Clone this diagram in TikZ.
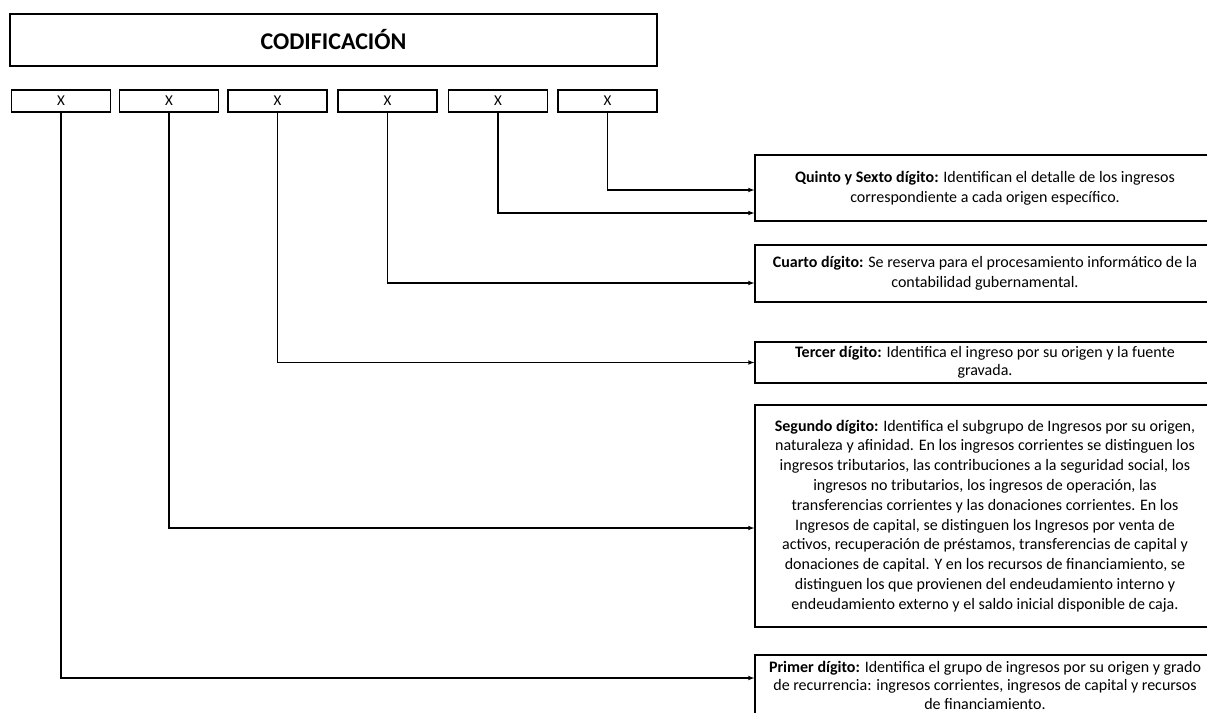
\documentclass[tikz,border=0pt]{standalone}
\usepackage{fontspec}
\setmainfont{Carlito}
\usetikzlibrary{arrows}

\begin{document}
\begin{tikzpicture}[x=1pt,y=-1pt,>=latex,
  digit/.style={draw,line width=1.3pt,minimum width=99pt,minimum height=22pt,inner sep=0pt,font=\fontsize{15}{16}\selectfont},
  infobox/.style={draw,line width=1.3pt,minimum width=460pt,align=center,inner sep=3pt,font=\fontsize{16}{19.8}\selectfont},
  link/.style={->,line width=1.1pt}]
\useasboundingbox (0,0) rectangle (1207,712);
\clip (0,0) rectangle (1207,712);
\node[draw,line width=1.3pt,minimum width=647pt,minimum height=52pt,font=\fontsize{24}{26}\selectfont\bfseries] (cod) at (333.5,40) {CODIFICACIÓN};
\node[digit] (d1) at (61,101) {X};
\node[digit] (d2) at (169,101) {X};
\node[digit] (d3) at (277.5,101) {X};
\node[digit] (d4) at (387.5,101) {X};
\node[digit] (d5) at (498,101) {X};
\node[digit] (d6) at (607.5,101) {X};
\node[infobox,minimum height=66pt] (quinto) at (985,188) {\textbf{Quinto y Sexto dígito:} Identifican el detalle de los ingresos\\correspondiente a cada origen específico.};
\node[infobox,minimum height=57pt] (cuarto) at (985,273.5) {\textbf{Cuarto dígito:} Se reserva para el procesamiento informático de la\\contabilidad gubernamental.};
\node[infobox,minimum height=41pt,font=\fontsize{16}{17.5}\selectfont] (tercer) at (985,362.5) {\textbf{Tercer dígito:} Identifica el ingreso por su origen y la fuente\\gravada.};
\node[infobox,minimum height=222pt] (segundo) at (985,516) {\textbf{Segundo dígito:} Identifica el subgrupo de Ingresos por su origen,\\naturaleza y afinidad. En los ingresos corrientes se distinguen los\\ingresos tributarios, las contribuciones a la seguridad social, los\\ingresos no tributarios, los ingresos de operación, las\\transferencias corrientes y las donaciones corrientes. En los\\Ingresos de capital, se distinguen los Ingresos por venta de\\activos, recuperación de préstamos, transferencias de capital y\\donaciones de capital. Y en los recursos de financiamiento, se\\distinguen los que provienen del endeudamiento interno y\\endeudamiento externo y el saldo inicial disponible de caja.};
\node[infobox,minimum height=60pt,font=\fontsize{16}{18.5}\selectfont] (primer) at (985,685) {\textbf{Primer dígito:} Identifica el grupo de ingresos por su origen y grado\\de recurrencia: ingresos corrientes, ingresos de capital y recursos\\de financiamiento.};
\draw[link] (d6.south) |- ([yshift=-2pt]quinto.west);
\draw[link] (d5.south) |- ([yshift=-25pt]quinto.west);
\draw[link] (d4.south) |- ([yshift=-9.5pt]cuarto.west);
\draw[link] (d3.south) |- (tercer.west);
\draw[link] (d2.south) |- ([yshift=-12pt]segundo.west);
\draw[link] (d1.south) |- ([yshift=7pt]primer.west);
\end{tikzpicture}
\end{document}
